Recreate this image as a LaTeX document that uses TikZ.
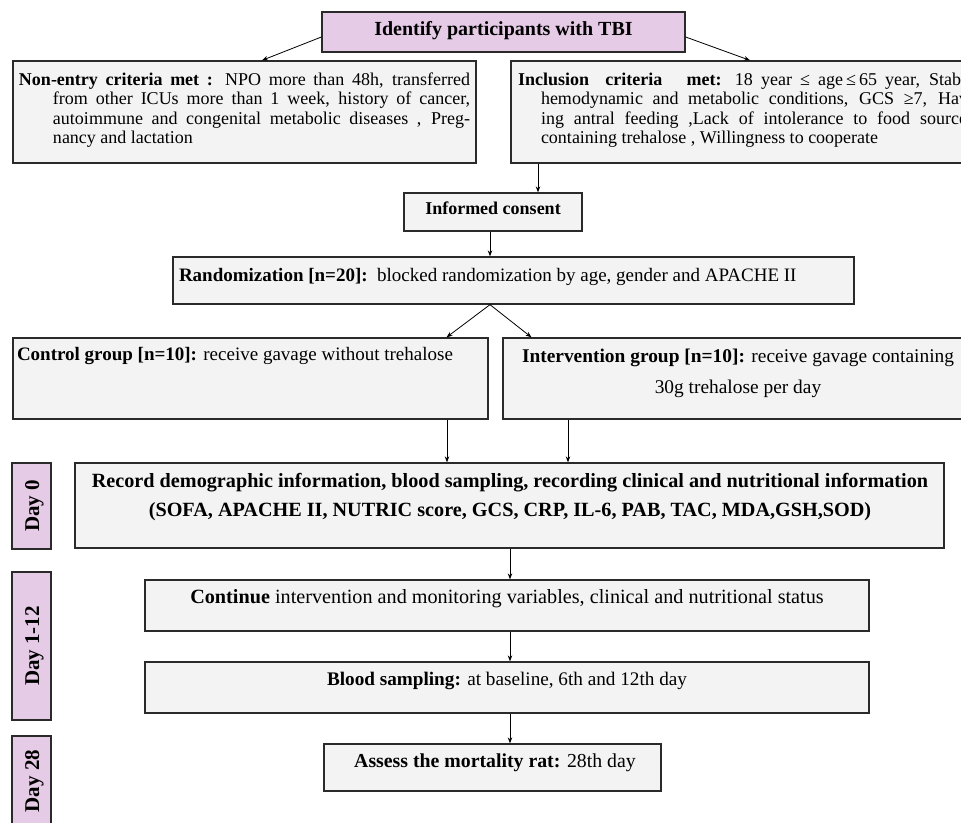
\documentclass[tikz,border=0pt]{standalone}
\usepackage{fontspec}
\setmainfont{Liberation Serif}
\usetikzlibrary{arrows.meta,calc}
\definecolor{boxfill}{HTML}{F3F3F3}
\definecolor{daypurple}{HTML}{E6CBE6}
\definecolor{edgecol}{HTML}{2A2A2A}
\newcommand{\fsz}[2]{\fontsize{#1}{#2}\selectfont}
\begin{document}
\begin{tikzpicture}[x=1pt,y=-1pt,
  gbox/.style 2 args={draw=edgecol,line width=1.3pt,fill=boxfill,inner sep=0pt,minimum width=#1pt,minimum height=#2pt},
  pbox/.style 2 args={draw=edgecol,line width=1.3pt,fill=daypurple,inner sep=0pt,minimum width=#1pt,minimum height=#2pt},
  txt/.style={inner sep=0pt,outer sep=0pt,font=\fsz{18}{22}},
  daytxt/.style={inner sep=0pt,rotate=90,anchor=base,font=\fsz{21}{24}\bfseries},
  arr/.style={draw=black,line width=0.8pt,-{Stealth[length=6pt,width=4.5pt]}}]
\useasboundingbox (0,0) rectangle (961,822);
\clip (0,0) rectangle (961,822);
\fill[white] (0,0) rectangle (961,822);

% boxes
\node[pbox={363}{40}] (top) at (503.5,32) {};
\node[gbox={463}{102}] (nonentry) at (244.5,112) {};
\node[gbox={470}{102}] (incl) at (746,112) {};
\node[gbox={178}{38}] (consent) at (493,212) {};
\node[gbox={681}{47}] (rand) at (513.5,280.5) {};
\node[gbox={475}{81}] (control) at (250.5,378.5) {};
\node[gbox={475}{81}] (interv) at (740.5,378.5) {};
\node[gbox={869}{85}] (day0box) at (509.5,505.5) {};
\node[gbox={724}{51}] (cont) at (507,605.5) {};
\node[gbox={724}{51}] (blood) at (507,687.5) {};
\node[gbox={337}{47}] (assess) at (492.5,767.5) {};
\node[pbox={39}{86}] (dzero) at (31.5,506) {};
\node[pbox={39}{148}] (donetwelve) at (31.5,646) {};
\node[pbox={39}{94}] (dtwentyeight) at (31.5,783) {};

% texts
\node[txt,font=\fsz{20}{24}\bfseries,anchor=base] (ttop) at (503.5,35) {Identify participants with TBI};
\node[txt,anchor=base west] (tnonentry) at (19,85) {\vtop{\baselineskip=19.5pt
  \hbox to 451pt{\textbf{Non-entry criteria met :} NPO more than 48h, transferred}
  \hbox{\hskip34pt\hbox to 417pt{from other ICUs  more than 1 week, history of  cancer,}}
  \hbox{\hskip34pt\hbox to 417pt{autoimmune and congenital metabolic diseases , Preg-}}
  \hbox{\hskip34pt nancy and lactation}}};
\node[txt,anchor=base west] (tincl) at (518,85) {\vtop{\baselineskip=19.5pt
  \hbox to 456pt{\textbf{Inclusion\ \ criteria\ \ \ met:} 18 year ≤ age\,≤\,65 year, Stable}
  \hbox{\hskip23pt\hbox to 433pt{hemodynamic and metabolic conditions, GCS ≥7, Hav-}}
  \hbox{\hskip23pt\hbox to 433pt{ing antral feeding ,Lack of intolerance to food sources}}
  \hbox{\hskip23pt containing trehalose , Willingness to cooperate}}};
\node[txt,font=\fsz{18}{22}\bfseries,anchor=base] (tconsent) at (493,214) {Informed consent};
\node[txt,font=\fsz{19}{22},anchor=base west] (trand) at (179,281) {\textbf{Randomization [n=20]:}\ \ blocked randomization by age, gender and APACHE II};
\node[txt,font=\fsz{19}{22},anchor=base west] (tcontrol) at (17,360) {\textbf{Control group [n=10]:} receive gavage without trehalose};
\node[txt,font=\fsz{19.4}{22},anchor=base] (tinterv) at (738,362) {\vtop{\baselineskip=31pt\halign{\hfil#\hfil\cr
  \textbf{Intervention group [n=10]:} receive gavage containing\cr
  30g trehalose per day\cr}}};
\node[txt,font=\fsz{20.2}{22}\bfseries,anchor=base] (tday0) at (510,487) {\vtop{\baselineskip=29pt\halign{\hfil#\hfil\cr
  Record demographic information, blood sampling, recording clinical and nutritional information\cr
  (SOFA, APACHE II, NUTRIC score, GCS, CRP, IL-6, PAB, TAC, MDA,GSH,SOD)\cr}}};
\node[txt,font=\fsz{20.2}{22},anchor=base] (tcont) at (507,603) {\textbf{Continue} intervention and monitoring variables, clinical and nutritional status};
\node[txt,font=\fsz{19.2}{22},anchor=base] (tblood) at (507,685) {\textbf{Blood sampling:} at baseline, 6th and 12th day};
\node[txt,font=\fsz{19.8}{22},anchor=base] (tassess) at (495,767) {\textbf{Assess the mortality rat:} 28th day};
\node[daytxt] (tdzero) at (39,506) {Day 0};
\node[daytxt] (tdonetwelve) at (39,646) {Day 1-12};
\node[daytxt] (tdtwentyeight) at (39,781) {Day 28};

% connectors
\coordinate (inclx) at (538,0);
\coordinate (randx) at (490,0);
\coordinate (ctrlx) at (447,0);
\coordinate (intx) at (568,0);
\coordinate (midx) at (510,0);
\draw[arr] ([yshift=-5pt]top.west) -- ([xshift=17.5pt]nonentry.north);
\draw[arr] ([yshift=-5pt]top.east) -- ([xshift=4pt]incl.north);
\draw[arr] (incl.south -| inclx) -- (consent.north -| inclx);
\draw[arr] (consent.south -| randx) -- (rand.north -| randx);
\draw[arr] (rand.south -| randx) -- ([xshift=-0.5pt]control.north -| ctrlx);
\draw[arr] (rand.south -| randx) -- ([xshift=84.5pt]control.north -| ctrlx);
\draw[arr] (control.south -| ctrlx) -- (day0box.north -| ctrlx);
\draw[arr] (interv.south -| intx) -- (day0box.north -| intx);
\draw[arr] (day0box.south -| midx) -- (cont.north -| midx);
\draw[arr] (cont.south -| midx) -- (blood.north -| midx);
\draw[arr] (blood.south -| midx) -- (assess.north -| midx);
\end{tikzpicture}
\end{document}
